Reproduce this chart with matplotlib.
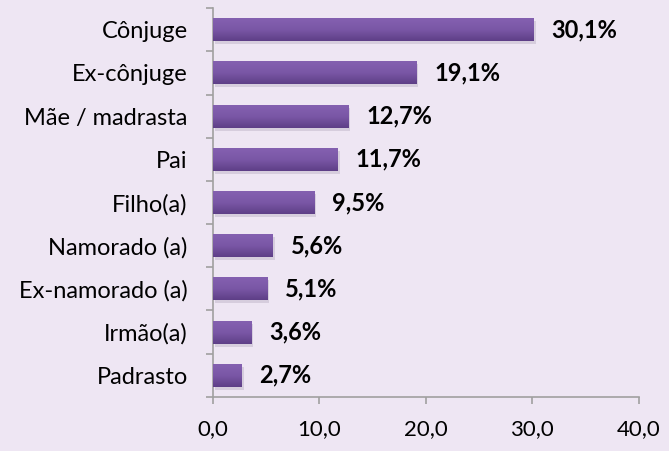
import numpy as np
import matplotlib.pyplot as plt
from matplotlib.colors import LinearSegmentedColormap

categorias = ['Cônjuge', 'Ex-cônjuge', 'Mãe / madrasta', 'Pai', 'Filho(a)',
              'Namorado (a)', 'Ex-namorado (a)', 'Irmão(a)', 'Padrasto']
valores = [30.1, 19.1, 12.7, 11.7, 9.5, 5.6, 5.1, 3.6, 2.7]
xticks = [0, 10, 20, 30, 40]

bg = '#EEE6F3'
plt.rcParams['font.family'] = ['Lato', 'DejaVu Sans']

fig = plt.figure(figsize=(6.69, 4.51), dpi=100, facecolor=bg)
ax = fig.add_axes([0.318, 0.12, 0.637, 0.862], facecolor=bg)

y = np.arange(len(categorias))[::-1]
grad = LinearSegmentedColormap.from_list('g', ['#5E3F87', '#7A57A6', '#8460B0'])

# sombra
ax.barh(y - 0.07, valores, height=0.53, left=0.2, color='#D6CDDD', zorder=1)
bars = ax.barh(y, valores, height=0.53, color='#7A57A6', zorder=2)
for b in bars:
    x0, y0 = b.get_x(), b.get_y()
    w, h = b.get_width(), b.get_height()
    im = ax.imshow(np.linspace(0, 1, 50).reshape(-1, 1), cmap=grad, aspect='auto',
                   extent=[x0, x0 + w, y0, y0 + h], origin='lower', zorder=3)
    im.set_clip_path(b)

for yi, v in zip(y, valores):
    ax.annotate(f'{v:.1f}%'.replace('.', ','), (v, yi), xytext=(13, 0),
                textcoords='offset points', va='center', ha='left',
                fontsize=17, fontweight='bold', color='black')

ax.set_xlim(0, 40)
ax.set_ylim(-0.5, len(categorias) - 0.5)
ax.set_xticks(xticks)
ax.set_xticklabels([f'{t:.1f}'.replace('.', ',') for t in xticks], fontsize=16)
ax.set_yticks(y)
ax.set_yticklabels(categorias, fontsize=17)
ax.tick_params(axis='y', length=0, pad=18)
ax.set_yticks(np.arange(-0.5, len(categorias), 1), minor=True)
ax.tick_params(axis='y', which='minor', length=5, color='#A0A0A0', width=1.2)
ax.tick_params(axis='x', length=5, color='#A0A0A0', width=1.2, pad=11)

for s in ['top', 'right']:
    ax.spines[s].set_visible(False)
for s in ['left', 'bottom']:
    ax.spines[s].set_color('#A0A0A0')
    ax.spines[s].set_linewidth(1.2)

plt.savefig('out.png', dpi=100, facecolor=bg)
